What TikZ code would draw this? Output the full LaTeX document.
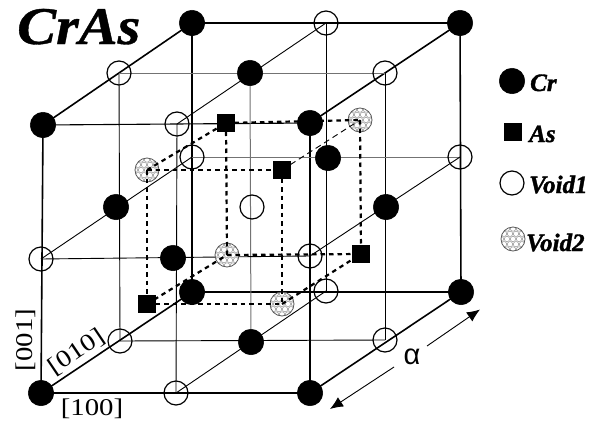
\documentclass[tikz,border=0pt]{standalone}
\usepackage{fontspec}
\usepackage{graphicx}
\setmainfont{Liberation Serif}
\newfontfamily\alphafont{Liberation Sans}
\newfontfamily\heavyfont[FakeBold=1.5,BoldFont={},ItalicFont={}]{Liberation Serif Bold Italic}
\newfontfamily\titlefont[FakeBold=0.7,BoldFont={},ItalicFont={}]{Liberation Serif Bold Italic}
\usetikzlibrary{arrows.meta}
\pgfdeclarelayer{bg}
\pgfdeclarelayer{fg}
\pgfsetlayers{bg,main,fg}
\tikzset{
  crnode/.style={circle,fill=black,draw=black,line width=.5pt,minimum size=25.5pt,inner sep=0pt},
  voidone/.style={circle,draw=black,line width=1.2pt,minimum size=24pt,inner sep=0pt},
  voidtwo/.style={circle,draw=black!65,line width=.8pt,fill=white,minimum size=24pt,inner sep=0pt,
    path picture={
      \begin{scope}[shift={(path picture bounding box.center)}]
      \foreach \i in {-2,...,2}{\foreach \j in {-3,...,3}{
        \draw[black!45,line width=.45pt] ({6*\j+3*mod(abs(\i),2)},{5.2*\i}) circle (2.7);
      }}
      \end{scope}
    }},
  asnode/.style={rectangle,fill=black,minimum size=18pt,inner sep=0pt},
  thick line/.style={line width=1.6pt},
  mid line/.style={line width=1.1pt},
  thin line/.style={line width=.9pt},
  gray line/.style={line width=1pt,black!55},
  bdash/.style={line width=2.2pt,dash pattern=on 4.5pt off 4pt},
  tdash/.style={line width=.9pt,dash pattern=on 6pt off 4pt},
  axis label/.style={font=\fontsize{24}{26}\selectfont,inner sep=0pt},
  legend label/.style={font=\fontsize{25}{27}\selectfont\heavyfont,inner sep=0pt,anchor=base west},
}
\newcommand{\wider}[1]{\scalebox{1.2}[1]{#1}}
\begin{document}
\begin{tikzpicture}[x=1pt,y=-1pt]
\useasboundingbox (0,0) rectangle (607,423);
\begin{pgfonlayer}{bg}
\fill[white] (0,0) rectangle (607,423);
\end{pgfonlayer}
% y=0 layer
\node[crnode] (a000) at (41,393) {};
\node[voidone] (a100) at (176,393) {};
\node[crnode] (a200) at (310,393) {};
\node[voidone] (a001) at (41,259) {};
\node[crnode] (a101) at (173,258) {};
\node[voidone] (a201) at (310,256) {};
\node[crnode] (a002) at (43,125) {};
\node[voidone] (a102) at (177,124) {};
\node[crnode] (a202) at (310,123) {};
% y=1 layer
\node[voidone] (a010) at (120,341) {};
\node[crnode] (a110) at (251,342) {};
\node[voidone] (a210) at (385,340) {};
\node[crnode] (a011) at (116,207) {};
\node[voidone] (a111) at (252,207) {};
\node[crnode] (a211) at (386,207) {};
\node[voidone] (a012) at (119,73) {};
\node[crnode] (a112) at (250,73) {};
\node[voidone] (a212) at (385,73) {};
% y=2 layer
\node[crnode] (a020) at (192,292) {};
\node[voidone] (a120) at (326,291) {};
\node[crnode] (a220) at (461,292) {};
\node[voidone] (a021) at (192,157) {};
\node[crnode] (a121) at (328,158) {};
\node[voidone] (a221) at (460,157) {};
\node[crnode] (a022) at (192,23) {};
\node[voidone] (a122) at (326,23) {};
\node[crnode] (a222) at (460,23) {};
% inner cube
\node[asnode] (s1) at (226,123) {};
\node[asnode] (s2) at (282,170) {};
\node[asnode] (s3) at (147,304) {};
\node[asnode] (s4) at (361,254) {};
\node[voidtwo] (v1) at (147,170) {};
\node[voidtwo] (v2) at (360,120) {};
\node[voidtwo] (v3) at (227,255) {};
\node[voidtwo] (v4) at (282,304) {};
\begin{pgfonlayer}{bg}
  % outer edges
  \draw[thick line] (a000.center) -- (a002.center);
  \draw[thick line] (a200.center) -- (a202.center);
  \draw[thick line] (a220.center) -- (a222.center);
  \draw[thick line] (a020.center) -- (a022.center);
  \draw[thick line] (a000.center) -- (a020.center);
  \draw[thick line] (a200.center) -- (a220.center);
  \draw[thick line] (a202.center) -- (a222.center);
  \draw[thick line] (a002.center) -- (a022.center);
  \draw[mid line] (a000.center) -- (a200.center);
  \draw[mid line] (a002.center) -- (a202.center);
  \draw[mid line] (a020.center) -- (a220.center);
  \draw[mid line] (a022.center) -- (a222.center);
  % inner grid
  \draw[thin line] (a100.center) -- (a102.center);
  \draw[thin line] (a120.center) -- (a122.center);
  \draw[thin line] (a010.center) -- (a012.center);
  \draw[thin line] (a210.center) -- (a212.center);
  \draw[gray line] (a110.center) -- (a112.center);
  \draw[thin line] (a001.center) -- (a201.center);
  \draw[thin line] (a010.center) -- (a210.center);
  \draw[gray line] (a021.center) -- (a221.center);
  \draw[gray line] (a012.center) -- (a212.center);
  \draw[thin line] (a001.center) -- (a021.center);
  \draw[thin line] (a201.center) -- (a221.center);
  \draw[thin line] (a100.center) -- (a120.center);
  \draw[thin line] (a102.center) -- (a122.center);
\end{pgfonlayer}
\begin{pgfonlayer}{fg}
  \draw[bdash] (v1.center) -- (s2.center);
  \draw[bdash] (s3.center) -- (v4.center);
  \draw[bdash] (s1.center) -- (v2.center);
  \draw[bdash] (v3.center) -- (s4.center);
  \draw[bdash] (v1.center) -- (s3.center);
  \draw[bdash] (s2.center) -- (v4.center);
  \draw[bdash] (s1.center) -- (v3.center);
  \draw[bdash] (v2.center) -- (s4.center);
  \draw[bdash] (v1.center) -- (s1.center);
  \draw[bdash] (s3.center) -- (v3.center);
  \draw[bdash] (v4.center) -- (s4.center);
  \draw[tdash] (s2.center) -- (v2.center);
\end{pgfonlayer}
% title
\node[font=\fontsize{53}{56}\selectfont\titlefont,inner sep=0pt,anchor=base west] (title) at (17,44) {\scalebox{1.1}[1]{CrAs}};
% axis labels
\node[axis label,rotate=90] (l001) at (26,340) {\wider{[001]}};
\node[axis label,rotate=34] (l010) at (77,352) {\wider{[010]}};
\node[axis label] (l100) at (92,409) {\wider{[100]}};
% lattice parameter
\node[font=\fontsize{29}{30}\selectfont\alphafont,inner sep=0pt] (alph) at (412,357) {α};
\coordinate (c1) at (427,346);
\coordinate (t1) at (480,309.5);
\coordinate (c2) at (394,367);
\coordinate (t2) at (330,409);
\draw[line width=.9pt,-{Latex[length=13pt,width=11pt]}] (c1) -- (t1);
\draw[line width=.9pt,-{Latex[length=13pt,width=11pt]}] (c2) -- (t2);
% legend
\node[crnode] (kc) at (512,81) {};
\node[legend label] (tc) at (530,91) {Cr};
\node[asnode] (ka) at (513,132) {};
\node[legend label] (ta) at (529,142) {As};
\node[voidone] (kv) at (512,183) {};
\node[legend label] (tv) at (529,193) {Void1};
\node[voidtwo] (kw) at (513,239) {};
\node[legend label] (tw) at (526,251) {Void2};
\end{tikzpicture}
\end{document}
